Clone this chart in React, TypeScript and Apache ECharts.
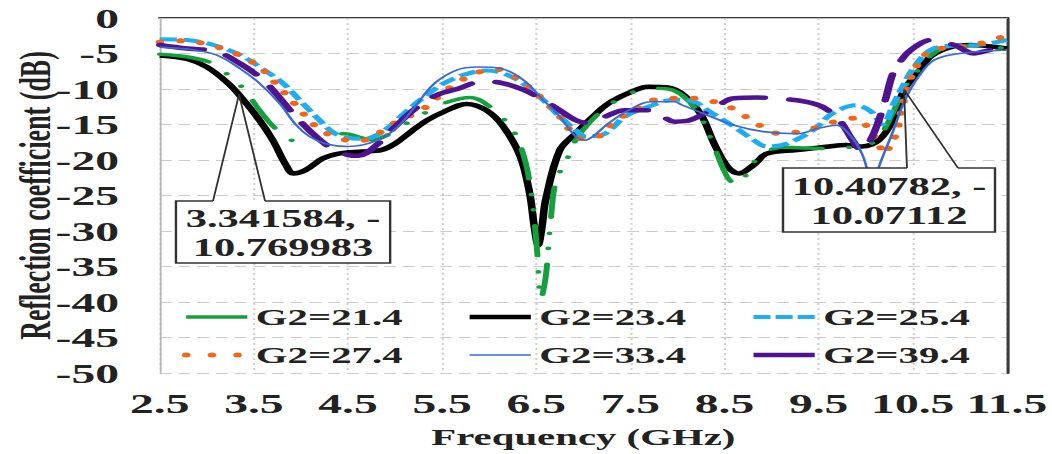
import React, { useEffect, useRef } from "react";
import * as echarts from "echarts";

// The reference image is horizontally stretched; the chart is drawn at a
// narrower width and stretched with a CSS transform to match.
const STRETCH = 1.7;
const CHART_W = 619;
const CHART_H = 454;

const xTickLabels = ["2.5", "3.5", "4.5", "5.5", "6.5", "7.5", "8.5", "9.5", "10.5", "11.5"];
const yTickLabels = ["0", "-5", "-10", "-15", "-20", "-25", "-30", "-35", "-40", "-45", "-50"];

const seriesNames = ["G2=21.4", "G2=23.4", "G2=25.4", "G2=27.4", "G2=33.4", "G2=39.4"];

// [frequency GHz, reflection coefficient dB]
const g214: number[][] = [
  [2.5, -5.1], [2.8, -5.5], [3.06, -6.4], [3.25, -8.3], [3.4, -10.1], [3.56, -13.0], [3.7, -15.2],
  [3.85, -16.9], [3.97, -17.4], [4.1, -17.0], [4.26, -16.5], [4.47, -16.3], [4.6, -16.7], [4.75, -17.2],
  [4.9, -16.6], [5.1, -15.0], [5.34, -13.2], [5.52, -12.0], [5.8, -11.2], [6.01, -12.5], [6.18, -14.6],
  [6.29, -16.7], [6.39, -20.5], [6.46, -26], [6.51, -33], [6.55, -39.5], [6.6, -36.5], [6.65, -29],
  [6.71, -22.8], [6.81, -20.4], [6.92, -17.2], [7.06, -14.8], [7.27, -12.3], [7.5, -10.6], [7.7, -9.9],
  [7.9, -10.0], [8.07, -11.1], [8.25, -14.0], [8.4, -18.5], [8.53, -22.4], [8.63, -23.5], [8.72, -22.3],
  [8.85, -19.8], [9.1, -18.2], [9.37, -18.3], [9.6, -18.4], [9.8, -18.2], [9.96, -18.2], [10.14, -16.7],
  [10.28, -13.6], [10.41, -9.9], [10.56, -7.3], [10.7, -5.2], [10.9, -4.0], [11.1, -3.9], [11.5, -4.3],
];

const g234: number[][] = [
  [2.5, -5.3], [2.8, -5.8], [3.0, -6.9], [3.21, -9.0], [3.34, -10.77], [3.56, -14.4], [3.7, -17.2],
  [3.84, -20.7], [3.92, -21.9], [4.05, -21.4], [4.23, -19.8], [4.4, -19.1], [4.65, -18.8], [4.85, -18.6],
  [5.0, -17.7], [5.17, -16.0], [5.34, -14.4], [5.52, -13.2], [5.76, -12.1], [5.97, -13.0], [6.15, -15.3],
  [6.33, -19.5], [6.43, -24.7], [6.48, -29.5], [6.52, -32.0], [6.56, -29.5], [6.6, -25.6], [6.75, -18.6],
  [6.92, -16.2], [7.1, -13.9], [7.27, -12.0], [7.51, -10.4], [7.69, -9.7], [7.9, -9.8], [8.07, -10.9],
  [8.25, -13.6], [8.39, -17.7], [8.53, -20.9], [8.65, -21.9], [8.81, -20.7], [8.95, -19.1], [9.27, -18.6],
  [9.61, -18.1], [9.79, -17.9], [9.96, -18.1], [10.14, -17.2], [10.28, -14.6], [10.41, -10.07],
  [10.56, -7.6], [10.69, -5.4], [10.9, -4.1], [11.11, -3.8], [11.5, -4.3],
];

const g254: number[][] = [
  [2.5, -3.0], [2.79, -3.1], [3.07, -3.8], [3.35, -5.2], [3.56, -6.9], [3.81, -9.2], [3.98, -11.5],
  [4.16, -13.9], [4.33, -16.0], [4.5, -16.9], [4.68, -17.0], [4.89, -15.8], [5.1, -13.4], [5.31, -11.1],
  [5.52, -9.2], [5.73, -8.0], [5.97, -7.4], [6.15, -7.8], [6.36, -9.2], [6.57, -11.5], [6.75, -13.9],
  [6.92, -15.8], [7.02, -16.7], [7.23, -16.3], [7.44, -13.9], [7.69, -12.5], [7.97, -11.5], [8.18, -11.8],
  [8.32, -13.0], [8.6, -15.3], [8.81, -17.2], [8.95, -18.1], [9.16, -17.7], [9.44, -15.8], [9.65, -13.4],
  [9.9, -12.3], [10.06, -13.2], [10.18, -15.0], [10.3, -12.0], [10.4, -9.5], [10.5, -7.2], [10.69, -4.5],
  [10.9, -3.9], [11.19, -3.8], [11.5, -3.1],
];

const g274: number[][] = [
  [2.5, -3.4], [2.77, -3.2], [3.0, -3.7], [3.2, -4.5], [3.39, -5.5], [3.56, -6.9], [3.67, -8.3],
  [3.77, -9.8], [3.88, -11.3], [3.98, -12.8], [4.09, -14.4], [4.21, -15.8], [4.4, -16.9], [4.6, -17.4],
  [4.79, -16.5], [4.94, -15.2], [5.1, -14.1], [5.28, -13.0], [5.52, -10.4], [5.7, -8.8], [5.87, -7.7],
  [6.08, -7.2], [6.26, -8.2], [6.41, -9.6], [6.54, -11.1], [6.75, -13.9], [6.86, -15.8], [6.99, -17.0],
  [7.16, -16.7], [7.27, -15.3], [7.41, -13.9], [7.55, -13.0], [7.76, -11.5], [7.97, -11.3], [8.18, -11.3],
  [8.39, -11.8], [8.58, -12.7], [8.75, -14.1], [8.9, -15.3], [9.09, -16.3], [9.3, -16.0], [9.51, -15.3],
  [9.72, -14.4], [9.91, -14.1], [10.03, -15.6], [10.14, -17.7], [10.19, -19.1], [10.26, -18.0],
  [10.33, -16.0], [10.38, -13.0], [10.45, -9.5], [10.56, -6.4], [10.71, -4.5], [11.0, -4.1],
  [11.31, -3.3], [11.48, -2.5],
];

const g334: number[][] = [
  [2.5, -4.1], [2.86, -4.5], [3.1, -5.2], [3.35, -7.1], [3.56, -9.2], [3.77, -12.0], [3.95, -15.1],
  [4.09, -16.7], [4.26, -17.7], [4.5, -18.1], [4.82, -17.2], [5.03, -15.3], [5.21, -12.5], [5.42, -9.2],
  [5.66, -7.3], [5.87, -6.9], [6.12, -7.1], [6.36, -8.7], [6.57, -11.5], [6.75, -13.9], [6.92, -16.7],
  [7.02, -17.2], [7.1, -16.7], [7.27, -14.8], [7.48, -13.0], [7.72, -11.8], [7.97, -11.8], [8.04, -12.2],
  [8.32, -13.7], [8.6, -15.1], [8.91, -16.0], [9.27, -16.3], [9.51, -15.5], [9.69, -15.1], [9.82, -16.3],
  [9.96, -19.1], [10.04, -22.5], [10.08, -24.0], [10.14, -21.0], [10.28, -16.3], [10.42, -11.5],
  [10.56, -8.3], [10.73, -5.9], [11.0, -5.0], [11.5, -4.5],
];

const g394: number[][] = [
  [2.5, -3.8], [2.79, -4.3], [3.1, -4.7], [3.35, -6.4], [3.56, -8.3], [3.7, -10.1], [3.84, -12.3],
  [3.98, -14.4], [4.16, -16.7], [4.33, -18.4], [4.5, -19.3], [4.61, -19.4], [4.82, -17.7], [5.0, -15.3],
  [5.24, -12.5], [5.45, -10.8], [5.66, -10.0], [5.94, -8.9], [6.15, -9.2], [6.36, -10.1], [6.57, -11.5],
  [6.75, -13.0], [6.92, -14.4], [7.05, -14.8], [7.23, -13.9], [7.44, -13.0], [7.72, -13.0], [7.97, -14.6],
  [8.1, -14.5], [8.25, -13.7], [8.39, -12.7], [8.6, -11.3], [8.85, -11.2], [9.12, -11.4], [9.37, -11.8],
  [9.54, -12.5], [9.72, -14.4], [9.86, -17.2], [9.95, -18.6], [10.05, -17.2], [10.14, -14.4],
  [10.21, -11.5], [10.29, -7.8], [10.38, -5.9], [10.48, -4.5], [10.69, -3.1], [10.94, -3.8],
  [11.15, -5.0], [11.32, -4.5], [11.5, -4.1],
];

const callouts = [
  { freq: 3.341584, db: -10.769983, text: "3.341584, -\n10.769983" },
  { freq: 10.40782, db: -10.07112, text: "10.40782, -\n10.07112" },
];

const FONT = "'Liberation Serif', 'Times New Roman', serif";
const GREEN = "#14a03c";
const CYAN = "#1caef0";
const ORANGE = "#f2661a";
const BLUE = "#3a6bd0";
const PURPLE = "#4f1290";

const GRID = { left: 89.4, right: 24.9, top: 18, bottom: 81 };

const fmt = (labels: string[]) => (v: number) =>
  labels.find((l) => Math.abs(parseFloat(l) - v) < 1e-6) ?? "";

const hiddenSymbol = { color: "rgba(0,0,0,0)", borderColor: "rgba(0,0,0,0)", borderWidth: 0 };

export default function App() {
  const ref = useRef<HTMLDivElement>(null);

  useEffect(() => {
    if (!ref.current) return;
    const chart = echarts.init(ref.current, undefined, { renderer: "svg" });

    const legendText = { fontFamily: FONT, fontWeight: "bold" as const, fontSize: 24, color: "#222", lineHeight: 24 };
    const legendCommon = {
      orient: "vertical" as const,
      top: 305,
      itemWidth: 36,
      itemHeight: 24,
      itemGap: 14,
      selectedMode: false,
      textStyle: legendText,
      padding: 0,
    };

    const lineSeries = (name: string, data: number[][], color: string, lineStyle: any, z: number) => ({
      name,
      type: "line",
      data,
      symbol: "none",
      smooth: 0.35,
      color,
      z,
      lineStyle: { color, ...lineStyle },
    });

    chart.setOption({
      animation: false,
      backgroundColor: "#ffffff",
      grid: { ...GRID, containLabel: false },
      xAxis: [
        {
          type: "value",
          min: 2.5,
          max: 11.5,
          interval: 1,
          position: "bottom",
          name: "Frequency (GHz)",
          nameLocation: "middle",
          nameGap: 52,
          nameTextStyle: { fontFamily: FONT, fontWeight: "bold", fontSize: 24, color: "#222" },
          axisLine: { show: true, lineStyle: { color: "#3a3a3a", width: 2 } },
          axisTick: { show: false },
          axisLabel: {
            formatter: fmt(xTickLabels),
            fontFamily: FONT,
            fontWeight: "bold",
            fontSize: 28,
            color: "#222",
            margin: 16,
          },
          splitLine: { show: true, lineStyle: { color: "#cfcfcf", width: 1.2, type: [2, 3] } },
        },
        {
          type: "value",
          min: 2.5,
          max: 11.5,
          interval: 1,
          position: "top",
          axisLine: { show: true, lineStyle: { color: "#c4c4c4", width: 1 } },
          axisTick: { show: false },
          axisLabel: { show: false },
          splitLine: { show: false },
        },
      ],
      yAxis: [
        {
          type: "value",
          min: -50,
          max: 0,
          interval: 5,
          position: "left",
          name: "Reflection coefficient (dB)",
          nameLocation: "middle",
          nameGap: 60,
          nameMoveOverlap: false,
          nameTextStyle: { fontFamily: FONT, fontWeight: "bold", fontSize: 26, color: "#222" },
          axisLine: { show: true, lineStyle: { color: "#b5b5b5", width: 1 } },
          axisTick: { show: false },
          axisLabel: {
            formatter: fmt(yTickLabels),
            fontFamily: FONT,
            fontWeight: "bold",
            fontSize: 28,
            color: "#222",
            margin: 24,
          },
          splitLine: { show: true, lineStyle: { color: "#cccccc", width: 1, type: [7, 4] } },
        },
        {
          type: "value",
          min: -50,
          max: 0,
          interval: 5,
          position: "right",
          axisLine: { show: true, lineStyle: { color: "#3a3a3a", width: 1.8 } },
          axisTick: { show: false },
          axisLabel: { show: false },
          splitLine: { show: false },
        },
      ],
      legend: [
        {
          ...legendCommon,
          left: 107,
          data: [
            { name: seriesNames[0], itemStyle: hiddenSymbol, lineStyle: { type: "solid", width: 3.5, cap: "butt" } },
            { name: seriesNames[3], itemStyle: hiddenSymbol, lineStyle: { type: [0.1, 15], width: 5, cap: "round" } },
          ],
        },
        {
          ...legendCommon,
          left: 274,
          data: [
            { name: seriesNames[1], itemStyle: hiddenSymbol, lineStyle: { type: "solid", width: 4.5 } },
            { name: seriesNames[4], itemStyle: hiddenSymbol, lineStyle: { type: "solid", width: 1.6 } },
          ],
        },
        {
          ...legendCommon,
          left: 441,
          data: [
            { name: seriesNames[2], itemStyle: hiddenSymbol, lineStyle: { type: [10, 3], width: 4 } },
            { name: seriesNames[5], itemStyle: hiddenSymbol, lineStyle: { type: "solid", width: 4.5, cap: "butt" } },
          ],
        },
      ],
      series: [
        lineSeries(seriesNames[1], g234, "#000000", { width: 4.5 }, 2),
        lineSeries(seriesNames[0], g214, GREEN, { width: 3.5, type: [30, 16, 0.1, 15, 0.1, 16], cap: "round" }, 3),
        lineSeries(seriesNames[2], g254, CYAN, { width: 4, type: [10, 4] }, 4),
        lineSeries(seriesNames[3], g274, ORANGE, { width: 5, type: [0.1, 12], cap: "round" }, 5),
        lineSeries(seriesNames[5], g394, PURPLE, { width: 4.5, type: [26, 15], cap: "round" }, 6),
        lineSeries(seriesNames[4], g334, BLUE, { width: 1.6 }, 7),
      ],
    });

    // Callout boxes (layout in chart px), tips from data via the axes.
    const boxes = [
      { x: 103.5, y: 201, w: 126, h: 62, base: [125.3, 155.9] },
      { x: 460.6, y: 168, w: 124.7, h: 64, base: [533.5, 563.5] },
    ];
    const elements: any[] = [];
    boxes.forEach((b, i) => {
      const c = callouts[i];
      const tip = chart.convertToPixel({ seriesIndex: 0 }, [c.freq, c.db]) as number[];
      elements.push({
        type: "rect",
        z: 100,
        shape: { x: b.x, y: b.y, width: b.w, height: b.h },
        style: { fill: "#ffffff", stroke: null },
      });
      elements.push({
        type: "polyline",
        z: 101,
        shape: {
          points: [
            [b.base[0], b.y],
            [b.x, b.y],
            [b.x, b.y + b.h],
            [b.x + b.w, b.y + b.h],
            [b.x + b.w, b.y],
            [b.base[1], b.y],
          ],
        },
        style: { stroke: "#333333", lineWidth: 1.4, fill: null },
      });
      elements.push({
        type: "polyline",
        z: 101,
        shape: { points: [[b.base[0], b.y], [tip[0], tip[1]], [b.base[1], b.y]] },
        style: { stroke: "#333333", lineWidth: 1.1, fill: null },
      });
      elements.push({
        type: "text",
        z: 102,
        x: b.x + b.w / 2,
        y: b.y + b.h / 2 + 1,
        style: {
          text: c.text,
          fontFamily: FONT,
          fontWeight: "bold",
          fontSize: 25,
          lineHeight: 29,
          fill: "#222",
          align: "center",
          verticalAlign: "middle",
        },
      });
    });
    chart.setOption({ graphic: { elements } });

    return () => chart.dispose();
  }, []);

  return (
    <div
      ref={ref}
      style={{
        position: "fixed",
        left: 0,
        top: 0,
        width: CHART_W,
        height: CHART_H,
        transform: `scaleX(${STRETCH})`,
        transformOrigin: "0 0",
        background: "#fff",
      }}
    />
  );
}
